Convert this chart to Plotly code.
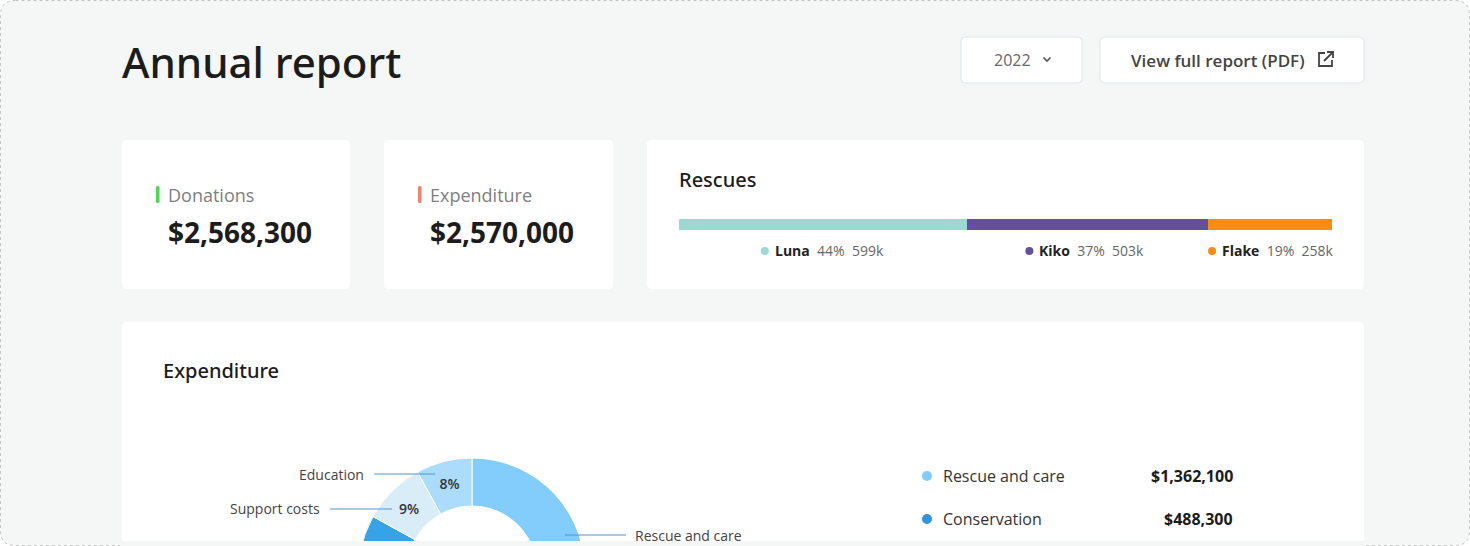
import plotly.graph_objects as go

# figure is drawn taller than the 546px window so the donut runs off the bottom like the reference
W, H = 1470, 700
FONT = "Open Sans"
FONT_MED = "Noto Sans"  # has a real medium weight


def px(x):
    return x / W


def py(y):
    return 1 - y / H


def rrect(x0, y0, x1, y1, r):
    # rounded rectangle as an svg path in paper coords
    return (f"M{px(x0 + r)},{py(y0)} L{px(x1 - r)},{py(y0)} "
            f"Q{px(x1)},{py(y0)} {px(x1)},{py(y0 + r)} L{px(x1)},{py(y1 - r)} "
            f"Q{px(x1)},{py(y1)} {px(x1 - r)},{py(y1)} L{px(x0 + r)},{py(y1)} "
            f"Q{px(x0)},{py(y1)} {px(x0)},{py(y1 - r)} L{px(x0)},{py(y0 + r)} "
            f"Q{px(x0)},{py(y0)} {px(x0 + r)},{py(y0)} Z")


# ---- data ----
report_year = "2022"
donations = 2568300
expenditure_total = 2570000

rescue_names = ["Luna", "Kiko", "Flake"]
rescue_values = [599, 503, 258]  # thousands
rescue_colors = ["#9dd9d2", "#654f9c", "#fd8a13"]

exp_categories = ["Rescue and care", "Conservation", "Other", "Support costs", "Education"]
exp_values = [1362100, 488300, 282700, 231300, 205600]
exp_colors = ["#83cdfd", "#2f93dd", "#36a2e7", "#d9edf9", "#abdcfb"]

legend_rows = ["Rescue and care", "Conservation"]  # rows visible in the legend list
pct_shown = ["Support costs", "Education"]  # the other slice labels sit below the fold

fig = go.Figure()

# Expenditure donut
cx, cy, R = 472, 571, 113
fig.add_trace(go.Pie(
    labels=exp_categories,
    values=exp_values,
    hole=0.575,
    sort=False,
    direction='clockwise',
    rotation=0,
    marker=dict(colors=exp_colors, line=dict(color='white', width=1)),
    texttemplate=['%{percent:.0%}' if c in pct_shown else '' for c in exp_categories],
    textposition='inside',
    insidetextorientation='horizontal',
    textfont=dict(family=FONT, size=14, color='#333333', weight=600),
    domain=dict(x=[px(cx - R), px(cx + R)], y=[py(cy + R), py(cy - R)]),
    showlegend=False,
    hoverinfo='skip'
))

# Rescues stacked bar
for name, v, c in zip(rescue_names, rescue_values, rescue_colors):
    fig.add_trace(go.Bar(
        x=[v], y=[0], orientation='h', width=1,
        marker=dict(color=c, line=dict(width=0)),
        name=name, showlegend=False, hoverinfo='skip'
    ))

shapes = []
annotations = []

# page frame
shapes.append(dict(type='path', path=rrect(0.5, 0.5, 1469.5, 545.5, 15), xref='paper', yref='paper',
                   fillcolor='#f5f7f7', line=dict(color='#c4c4c4', width=1, dash='dot'), layer='below'))

# cards and buttons
for x0, y0, x1, y1 in [(122, 140, 350, 289), (384, 140, 613, 289), (647, 140, 1364, 289), (122, 322, 1364, 560)]:
    shapes.append(dict(type='path', path=rrect(x0, y0, x1, y1, 5), xref='paper', yref='paper',
                       fillcolor='white', line=dict(width=0), layer='below'))
for x0, x1 in [(961, 1082), (1100, 1364)]:
    shapes.append(dict(type='path', path=rrect(x0, 37, x1, 83, 4), xref='paper', yref='paper',
                       fillcolor='white', line=dict(color='#d8e6ee', width=1), layer='below'))

# chevron on year dropdown
shapes.append(dict(type='path', path=f"M{px(1043.5)},{py(57.5)} L{px(1047)},{py(61)} L{px(1050.5)},{py(57.5)}",
                   xref='paper', yref='paper', line=dict(color='#555555', width=1.6)))
# external link icon
shapes.append(dict(type='path',
                   path=f"M{px(1325)},{py(53)} L{px(1319)},{py(53)} L{px(1319)},{py(66)} L{px(1332)},{py(66)} L{px(1332)},{py(60)}",
                   xref='paper', yref='paper', line=dict(color='#444444', width=1.8)))
shapes.append(dict(type='path',
                   path=f"M{px(1324)},{py(61)} L{px(1332.5)},{py(52.5)} M{px(1327)},{py(52)} L{px(1333)},{py(52)} L{px(1333)},{py(58)}",
                   xref='paper', yref='paper', line=dict(color='#444444', width=1.8)))

# title + buttons text
annotations.append(dict(text="Annual report", x=px(120), y=py(61), xanchor='left', yanchor='middle',
                        font=dict(family=FONT_MED, size=42, color='#1c1c1c', weight=500)))
annotations.append(dict(text=report_year, x=px(1012), y=py(60), xanchor='center', yanchor='middle',
                        font=dict(family=FONT, size=16, color='#666666')))
annotations.append(dict(text="View full report (PDF)", x=px(1218), y=py(60), xanchor='center', yanchor='middle',
                        font=dict(family=FONT, size=17, color='#444444', weight=600)))

# KPI cards
for x0, label, value, colr in [(156, "Donations", donations, '#4cd94f'),
                               (418, "Expenditure", expenditure_total, '#f5836b')]:
    shapes.append(dict(type='path', path=rrect(x0, 186, x0 + 3.5, 203, 1.5), xref='paper', yref='paper',
                       fillcolor=colr, line=dict(width=0)))
    annotations.append(dict(text=label, x=px(x0 + 10), y=py(195), xanchor='left', yanchor='middle',
                            font=dict(family=FONT, size=18, color='#808080')))
    annotations.append(dict(text=f"<b>${value:,}</b>", x=px(x0 + 10), y=py(232), xanchor='left', yanchor='middle',
                            font=dict(family=FONT, size=28, color='#1c1c1c')))

# Rescues card
annotations.append(dict(text="Rescues", x=px(677), y=py(180), xanchor='left', yanchor='middle',
                        font=dict(family=FONT_MED, size=20, color='#1c1c1c', weight=500)))
bar_x0, bar_x1 = 679, 1332
total_rescues = sum(rescue_values)
cum = 0
for name, v, c in zip(rescue_names, rescue_values, rescue_colors):
    mid = bar_x0 + (cum + v / 2) / total_rescues * (bar_x1 - bar_x0)
    cum += v
    pct = round(v / total_rescues * 100)
    shapes.append(dict(type='circle', xref='paper', yref='paper', x0=px(mid - 62), x1=px(mid - 54),
                       y0=py(255), y1=py(247), fillcolor=c, line=dict(width=0)))
    annotations.append(dict(text=f"<b>{name}</b>\u00a0\u00a0<span style='color:#666666'>{pct}%\u00a0\u00a0{v}k</span>",
                            x=px(mid - 50), y=py(251), xanchor='left', yanchor='middle',
                            font=dict(family=FONT, size=14, color='#222222')))

# Expenditure card
annotations.append(dict(text="Expenditure", x=px(161), y=py(370), xanchor='left', yanchor='middle',
                        font=dict(family=FONT_MED, size=20, color='#1c1c1c', weight=500)))

# donut callouts
for label, lx0, lx1, ly, side in [("Education", 374, 435, 474, 'right'),
                                 ("Support costs", 330, 392, 509, 'right'),
                                 ("Rescue and care", 565, 626, 535, 'left')]:
    shapes.append(dict(type='line', xref='paper', yref='paper', x0=px(lx0), x1=px(lx1), y0=py(ly), y1=py(ly),
                       line=dict(color='#4f95cf', width=1), layer='above'))
    annotations.append(dict(text=label, x=px(lx0 - 8) if side == 'right' else px(lx1 + 7), y=py(ly),
                            xanchor=side, yanchor='middle',
                            font=dict(family=FONT, size=14, color='#444444')))

# legend list on the right
for i, cat in enumerate(legend_rows):
    k = exp_categories.index(cat)
    ry = 476 + i * 43
    shapes.append(dict(type='circle', xref='paper', yref='paper', x0=px(922), x1=px(932),
                       y0=py(ry + 5), y1=py(ry - 5), fillcolor=exp_colors[k], line=dict(width=0)))
    annotations.append(dict(text=cat, x=px(941), y=py(ry), xanchor='left', yanchor='middle',
                            font=dict(family=FONT, size=16, color='#333333')))
    annotations.append(dict(text=f"<b>${exp_values[k]:,}</b>", x=px(1235), y=py(ry), xanchor='right', yanchor='middle',
                            font=dict(family=FONT, size=16, color='#1c1c1c')))

# strip of page background below the card, drawn over the donut
shapes.append(dict(type='rect', xref='paper', yref='paper', x0=px(120), x1=px(1366), y0=0, y1=py(541),
                   fillcolor='#f5f7f7', line=dict(width=0), layer='above'))

fig.update_layout(
    width=W, height=H,
    margin=dict(l=0, r=0, t=0, b=0),
    paper_bgcolor='white',
    plot_bgcolor='rgba(0,0,0,0)',
    barmode='stack',
    bargap=0,
    xaxis=dict(domain=[px(bar_x0), px(bar_x1)], range=[0, total_rescues], visible=False, fixedrange=True),
    yaxis=dict(domain=[py(230), py(219)], range=[-0.5, 0.5], visible=False, fixedrange=True),
    shapes=shapes,
    annotations=[dict(a, xref='paper', yref='paper', showarrow=False) for a in annotations],
    font=dict(family=FONT),
)

# drop the default page margin and the scrollbars of the taller figure
fig.write_html("out.html", config={'displayModeBar': False},
               post_script="document.body.style.margin='0';document.body.style.overflow='hidden';")
